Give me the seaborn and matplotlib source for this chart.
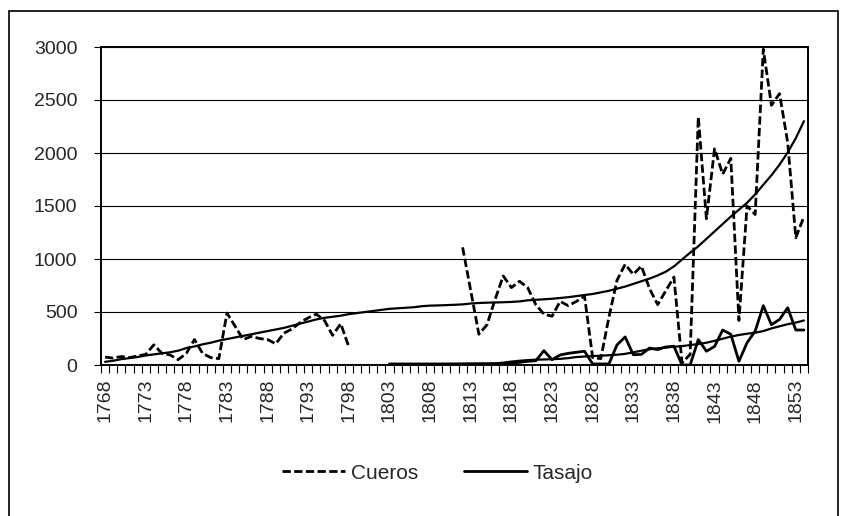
import numpy as np
import pandas as pd
import matplotlib.pyplot as plt
import seaborn as sns
from matplotlib.lines import Line2D
from matplotlib.patches import Rectangle

# -----------------------------
# datos
# -----------------------------
years_a = list(range(1768, 1799))   # cueros, primer tramo
years_b = list(range(1812, 1855))   # cueros, segundo tramo
years_t = list(range(1803, 1855))   # tasajo
years_all = list(range(1768, 1855))

cueros_a = [75, 65, 80, 70, 85, 100, 190, 110, 95, 50,
            110, 240, 110, 70, 60, 490, 366, 240, 270, 250,
            240, 200, 300, 340, 400, 445, 480, 420, 280, 390,
            170]

cueros_b = [1110, 700, 290, 380, 620, 840, 730, 790, 730, 570,
            480, 460, 600, 560, 600, 650, 70, 60, 450, 800,
            950, 855, 933, 720, 570, 700, 830, 20, 100, 2340,
            1380, 2040, 1800, 1950, 420, 1500, 1420, 2980, 2450, 2560,
            2100, 1200, 1400]

tasajo = [10, 10, 10, 10, 10, 10, 10, 10, 10, 10,
          10, 10, 10, 10, 10, 15, 25, 35, 40, 135,
          50, 95, 110, 120, 130, 10, 10, 10, 190, 265,
          97, 100, 160, 145, 170, 177, 0, 0, 240, 130,
          175, 330, 290, 35, 210, 320, 560, 380, 430, 540,
          330, 330]

# tendencias
cueros_trend = [30, 40, 55, 65, 75, 90, 100, 110, 120, 135,
                160, 175, 195, 210, 230, 245, 260, 275, 290, 305,
                320, 335, 350, 370, 390, 410, 430, 445, 455, 465,
                480, 490, 500, 510, 520, 530, 535, 540, 545, 555,
                560, 562, 565, 568, 572, 580, 585, 588, 590, 592,
                595, 600, 610, 615, 620, 625, 632, 640, 650, 660,
                670, 685, 700, 720, 740, 765, 790, 815, 845, 880,
                930, 995, 1060, 1120, 1190, 1260, 1330, 1400, 1465, 1530,
                1610, 1700, 1790, 1890, 2005, 2140, 2300]

tasajo_trend = [5, 5, 6, 6, 7, 7, 8, 9, 10, 11,
                12, 13, 14, 15, 22, 32, 40, 46, 50, 52,
                55, 58, 65, 75, 80, 84, 88, 92, 97, 105,
                120, 135, 148, 158, 165, 172, 178, 188, 198, 210,
                228, 248, 268, 283, 295, 305, 320, 345, 365, 385,
                400, 420]

# -----------------------------
# gráfico
# -----------------------------
sns.set_theme(style="ticks")
plt.rcParams['font.family'] = ['Liberation Sans', 'DejaVu Sans']
FS = 14
DASH = [3.0, 1.2]

fig = plt.figure(figsize=(8.5, 5.16), dpi=100)
ax = fig.add_axes([101 / 850, 1 - 365 / 516, (808 - 101) / 850, (365 - 47) / 516])

df_c = pd.DataFrame({"anio": years_a + years_b,
                     "valor": cueros_a + cueros_b,
                     "tramo": [0] * len(years_a) + [1] * len(years_b)})
df_t = pd.DataFrame({"anio": years_t, "valor": tasajo})
df_ct = pd.DataFrame({"anio": years_all, "valor": cueros_trend})
df_tt = pd.DataFrame({"anio": years_t, "valor": tasajo_trend})

sns.lineplot(data=df_ct, x="anio", y="valor", color="black", lw=1.6, ax=ax)
sns.lineplot(data=df_tt, x="anio", y="valor", color="black", lw=1.6, ax=ax)
sns.lineplot(data=df_t, x="anio", y="valor", color="black", lw=2.0, ax=ax)
n = len(ax.lines)
sns.lineplot(data=df_c, x="anio", y="valor", units="tramo", estimator=None,
             color="black", lw=2.0, ax=ax)
for ln in ax.lines[n:]:
    ln.set_dashes(DASH)

ax.set_xlim(1767.5, 1854.5)
ax.set_ylim(0, 3000)
ax.set_yticks(range(0, 3001, 500))
ax.set_xticks(range(1768, 1855, 5))
ax.set_xticks(np.arange(1767.5, 1855, 1), minor=True)
ax.set_xticklabels([str(y) for y in range(1768, 1855, 5)], rotation=90, fontsize=FS)
ax.tick_params(axis="x", which="major", length=0, pad=10)
ax.tick_params(axis="x", which="minor", length=5.5, width=0.8, color="black", direction="out")
ax.tick_params(axis="y", length=5, width=0.8, color="black", direction="out", pad=12, labelsize=FS)
ax.yaxis.grid(True, color="black", lw=0.8)
ax.set_axisbelow(True)
ax.set_xlabel("")
ax.set_ylabel("")
for s in ax.spines.values():
    s.set_color("black")
    s.set_linewidth(1.4)

# marco exterior
fig.patches.append(Rectangle((9 / 850, -0.05), (838 - 9) / 850, 1.05 - 11 / 516,
                             transform=fig.transFigure, fill=False,
                             edgecolor="black", lw=1.2))

handles = [Line2D([], [], color="black", lw=2.0, dashes=DASH),
           Line2D([], [], color="black", lw=2.0)]
fig.legend(handles, ["Cueros", "Tasajo"], loc="center", bbox_to_anchor=(0.515, 0.083),
           ncol=2, frameon=False, fontsize=15, handlelength=3.0,
           handletextpad=0.3, columnspacing=2.2)

fig.savefig("out.png", dpi=100)
plt.close(fig)
